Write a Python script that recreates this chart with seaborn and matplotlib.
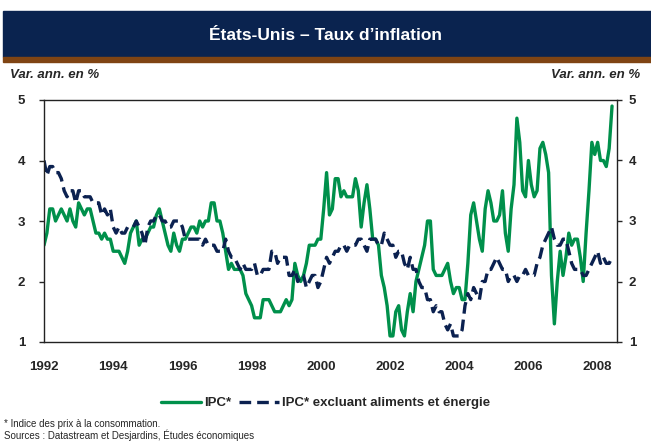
import numpy as np
import pandas as pd
import matplotlib
matplotlib.use("Agg")
import matplotlib.pyplot as plt
from matplotlib.patches import Rectangle
import seaborn as sns

# IPC, variation annuelle en %, mensuel, janv. 1992 -> juin 2008
ipc = [
    2.6, 2.8, 3.2, 3.2, 3.0, 3.1, 3.2, 3.1, 3.0, 3.2, 3.0, 2.9,  # 1992
    3.3, 3.2, 3.1, 3.2, 3.2, 3.0, 2.8, 2.8, 2.7, 2.8, 2.7, 2.7,  # 1993
    2.5, 2.5, 2.5, 2.4, 2.3, 2.5, 2.8, 2.9, 3.0, 2.6, 2.7, 2.7,  # 1994
    2.8, 2.9, 2.9, 3.1, 3.2, 3.0, 2.8, 2.6, 2.5, 2.8, 2.6, 2.5,  # 1995
    2.7, 2.7, 2.8, 2.9, 2.9, 2.8, 3.0, 2.9, 3.0, 3.0, 3.3, 3.3,  # 1996
    3.0, 3.0, 2.8, 2.5, 2.2, 2.3, 2.2, 2.2, 2.2, 2.1, 1.8, 1.7,  # 1997
    1.6, 1.4, 1.4, 1.4, 1.7, 1.7, 1.7, 1.6, 1.5, 1.5, 1.5, 1.6,  # 1998
    1.7, 1.6, 1.7, 2.3, 2.1, 2.0, 2.1, 2.3, 2.6, 2.6, 2.6, 2.7,  # 1999
    2.7, 3.2, 3.8, 3.1, 3.2, 3.7, 3.7, 3.4, 3.5, 3.4, 3.4, 3.4,  # 2000
    3.7, 3.5, 2.9, 3.3, 3.6, 3.2, 2.7, 2.7, 2.6, 2.1, 1.9, 1.6,  # 2001
    1.1, 1.1, 1.5, 1.6, 1.2, 1.1, 1.5, 1.8, 1.5, 2.0, 2.2, 2.4,  # 2002
    2.6, 3.0, 3.0, 2.2, 2.1, 2.1, 2.1, 2.2, 2.3, 2.0, 1.8, 1.9,  # 2003
    1.9, 1.7, 1.7, 2.3, 3.1, 3.3, 3.0, 2.7, 2.5, 3.2, 3.5, 3.3,  # 2004
    3.0, 3.0, 3.1, 3.5, 2.8, 2.5, 3.2, 3.6, 4.7, 4.3, 3.5, 3.4,  # 2005
    4.0, 3.6, 3.4, 3.5, 4.2, 4.3, 4.1, 3.8, 2.1, 1.3, 2.0, 2.5,  # 2006
    2.1, 2.4, 2.8, 2.6, 2.7, 2.7, 2.4, 2.0, 2.8, 3.5, 4.3, 4.1,  # 2007
    4.3, 4.0, 4.0, 3.9, 4.2, 4.9,                                # 2008
]

# IPC excluant aliments et énergie
ipc_base = [
    4.0, 3.75, 3.9, 3.9, 3.8, 3.8, 3.7, 3.5, 3.4, 3.5, 3.5, 3.3,  # 1992
    3.5, 3.5, 3.4, 3.4, 3.4, 3.3, 3.3, 3.3, 3.1, 3.2, 3.1, 3.2,  # 1993
    2.9, 2.8, 2.9, 2.8, 2.8, 2.9, 2.9, 2.9, 3.0, 2.9, 2.8, 2.6,  # 1994
    2.9, 3.0, 3.0, 3.1, 3.1, 3.0, 3.0, 2.9, 2.9, 3.0, 3.0, 3.0,  # 1995
    2.9, 2.7, 2.7, 2.7, 2.7, 2.7, 2.7, 2.6, 2.7, 2.6, 2.6, 2.6,  # 1996
    2.5, 2.5, 2.5, 2.7, 2.5, 2.4, 2.4, 2.3, 2.2, 2.3, 2.2, 2.2,  # 1997
    2.2, 2.3, 2.1, 2.1, 2.2, 2.2, 2.2, 2.5, 2.5, 2.3, 2.4, 2.4,  # 1998
    2.4, 2.1, 2.1, 2.2, 2.0, 2.1, 2.1, 1.9, 2.0, 2.1, 2.1, 1.9,  # 1999
    2.0, 2.2, 2.4, 2.3, 2.4, 2.5, 2.5, 2.6, 2.6, 2.5, 2.6, 2.6,  # 2000
    2.6, 2.7, 2.7, 2.6, 2.5, 2.7, 2.7, 2.7, 2.6, 2.6, 2.8, 2.7,  # 2001
    2.6, 2.6, 2.4, 2.5, 2.5, 2.3, 2.2, 2.4, 2.2, 2.2, 2.0, 1.9,  # 2002
    1.9, 1.7, 1.7, 1.5, 1.6, 1.5, 1.5, 1.3, 1.2, 1.3, 1.1, 1.1,  # 2003
    1.1, 1.2, 1.6, 1.8, 1.7, 1.9, 1.8, 1.7, 2.0, 2.0, 2.2, 2.2,  # 2004
    2.3, 2.4, 2.3, 2.2, 2.2, 2.0, 2.1, 2.1, 2.0, 2.1, 2.1, 2.2,  # 2005
    2.1, 2.1, 2.1, 2.3, 2.4, 2.6, 2.7, 2.8, 2.9, 2.7, 2.6, 2.6,  # 2006
    2.7, 2.7, 2.5, 2.3, 2.2, 2.2, 2.2, 2.1, 2.1, 2.2, 2.3, 2.4,  # 2007
    2.5, 2.3, 2.4, 2.3, 2.3, 2.4,                                # 2008
]

annees = [1992, 1994, 1996, 1998, 2000, 2002, 2004, 2006, 2008]
graduations_y = [1, 2, 3, 4, 5]

VERT = "#00904b"
MARINE = "#0b2150"
BRUN = "#7f4413"

dates = pd.date_range("1992-01-01", periods=len(ipc), freq="MS")
df = pd.DataFrame({
    "annee": dates.year + (dates.month - 1) / 12,
    "ipc": ipc,
    "ipc_base": ipc_base,
})

sns.set_style("white")
plt.rcParams["font.family"] = ["Liberation Sans", "DejaVu Sans"]

fig = plt.figure(figsize=(6.51, 4.42), dpi=100)
ax = fig.add_axes([44 / 651, 1 - 342 / 442, 573 / 651, 242 / 442])

sns.lineplot(data=df, x="annee", y="ipc", ax=ax, color=VERT, lw=2.4,
             label="IPC*")
sns.lineplot(data=df, x="annee", y="ipc_base", ax=ax, color=MARINE, lw=2.4,
             label="IPC* excluant aliments et énergie")
ax.lines[1].set_linestyle((0, (3.5, 1.8)))

ax.set_xlim(1992, 2008.56)
ax.set_ylim(1, 5)
ax.set_xticks(annees)
ax.set_xticklabels([str(a) for a in annees], fontweight="bold", fontsize=9.5)
ax.set_yticks(graduations_y)
ax.set_yticklabels([str(v) for v in graduations_y], fontweight="bold", fontsize=9.5)
ax.tick_params(axis="y", left=True, length=3.5, width=1, direction="out", pad=10)
ax.tick_params(axis="x", bottom=False, pad=10)
ax.set_xlabel("")
ax.set_ylabel("")
for s in ax.spines.values():
    s.set_visible(True)
    s.set_color("#222222")
    s.set_linewidth(1.0)

# axe de droite (mêmes graduations)
ax_d = ax.twinx()
ax_d.set_ylim(1, 5)
ax_d.set_yticks(graduations_y)
ax_d.set_yticklabels([str(v) for v in graduations_y], fontweight="bold", fontsize=9.5)
ax_d.tick_params(axis="y", right=True, length=3.5, width=1, direction="out", pad=5)
for s in ax_d.spines.values():
    s.set_visible(False)
ax_d.grid(False)

# légende sous le graphique
h, l = ax.get_legend_handles_labels()
ax.get_legend().remove()
fig.legend(h, l, loc="center", bbox_to_anchor=(0.5, 1 - 403 / 442), ncol=2,
           frameon=False, handlelength=3.0, columnspacing=0.6, handletextpad=0.25,
           prop={"weight": "bold", "size": 9.5})

# bandeau du titre
fig.patches.append(Rectangle((3 / 651, 1 - 57 / 442), 1, 46 / 442,
                             transform=fig.transFigure, color="#0a234f", zorder=0))
fig.patches.append(Rectangle((3 / 651, 1 - 62 / 442), 1, 5 / 442,
                             transform=fig.transFigure, color=BRUN, zorder=0))
fig.text(0.5, 1 - 35 / 442, "États-Unis – Taux d’inflation", color="white",
         ha="center", va="center", fontsize=12.5, fontweight="bold")

fig.text(10 / 651, 1 - 75 / 442, "Var. ann. en %", ha="left", va="center",
         fontsize=9.5, fontweight="bold", fontstyle="italic")
fig.text(640 / 651, 1 - 75 / 442, "Var. ann. en %", ha="right", va="center",
         fontsize=9.5, fontweight="bold", fontstyle="italic")

fig.text(4 / 651, 1 - 424 / 442, "* Indice des prix à la consommation.",
         ha="left", va="center", fontsize=7)
fig.text(4 / 651, 1 - 435 / 442, "Sources : Datastream et Desjardins, Études économiques",
         ha="left", va="center", fontsize=7)

fig.savefig("out.png", dpi=100)
